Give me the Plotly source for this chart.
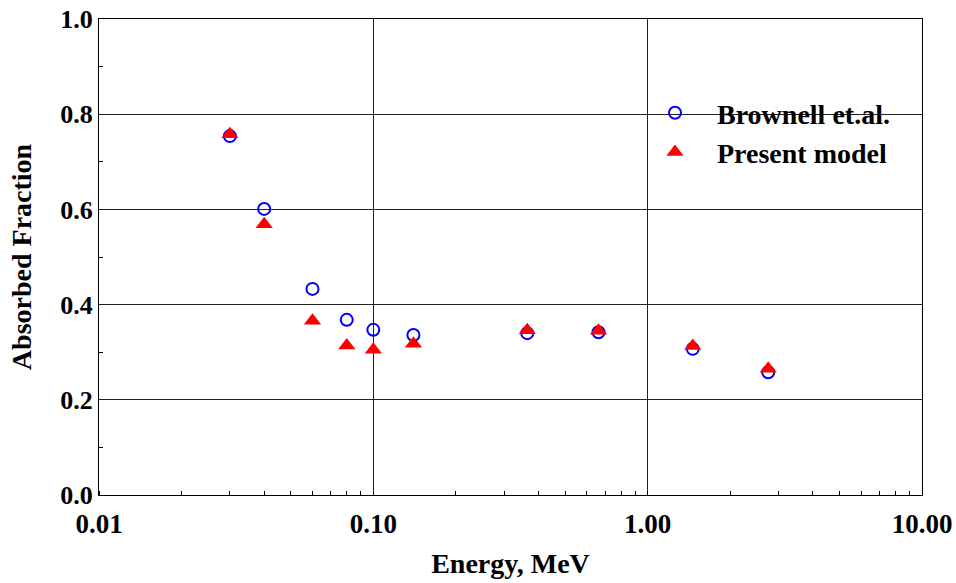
import plotly.graph_objects as go

# Photon energy (MeV) and absorbed fraction values
energy_mev = [0.030, 0.040, 0.060, 0.080, 0.100, 0.140, 0.364, 0.662, 1.46, 2.75]
brownell = [0.754, 0.601, 0.433, 0.368, 0.347, 0.336, 0.340, 0.342, 0.307, 0.258]
present_model = [0.758, 0.569, 0.366, 0.314, 0.305, 0.318, 0.346, 0.345, 0.313, 0.265]

x_tick_vals = [0.01, 0.1, 1, 10]
x_tick_text = ["0.01", "0.10", "1.00", "10.00"]

FONT = "Liberation Serif"

fig = go.Figure()
fig.add_trace(go.Scatter(
    x=energy_mev, y=brownell, mode="markers", name="<b>Brownell et.al.</b>",
    marker=dict(symbol="circle-open", size=12, color="#0000ff", line=dict(width=2, color="#0000ff")),
))
fig.add_trace(go.Scatter(
    x=energy_mev, y=present_model, mode="markers", name="<b>Present model</b>",
    marker=dict(symbol="triangle-up", size=15, color="#ff0000", line=dict(width=0)),
))

# white panel behind the legend, covering the grid
fig.add_shape(type="rect", xref="paper", yref="paper",
              x0=(638 - 99) / 823, x1=(893 - 99) / 823,
              y0=(495 - 170) / 476, y1=(495 - 90) / 476,
              fillcolor="white", line=dict(width=0), layer="between")

fig.update_layout(
    width=956, height=583,
    margin=dict(l=99, r=34, t=19, b=88, autoexpand=False),
    paper_bgcolor="white", plot_bgcolor="white",
    font=dict(family=FONT, color="black"),
    showlegend=True,
    legend=dict(x=(633 - 99) / 823, y=(495 - 88) / 476, xanchor="left", yanchor="top",
                bgcolor="rgba(0,0,0,0)", font=dict(size=28, family=FONT),
                tracegroupgap=0, itemsizing="trace", itemwidth=74),
)

fig.update_xaxes(
    type="log", range=[-2, 1], automargin=False,
    tickvals=x_tick_vals, ticktext=x_tick_text,
    tickfont=dict(size=27, family=FONT, weight="bold"),
    ticklabelstandoff=5,
    showgrid=True, gridcolor="#222", gridwidth=1,
    showline=True, linecolor="black", linewidth=1, mirror=True,
    ticks="", zeroline=False,
    minor=dict(ticks="inside", ticklen=4, tickcolor="black", showgrid=False, dtick="D1"),
    title=dict(text="<b>Energy, MeV</b>", font=dict(size=28, family=FONT), standoff=14),
)
fig.update_yaxes(
    range=[0, 1], dtick=0.2, tickformat=".1f", automargin=False,
    tickfont=dict(size=26, family=FONT, weight="bold"),
    showgrid=True, gridcolor="#222", gridwidth=1,
    showline=True, linecolor="black", linewidth=1, mirror=True,
    ticks="", zeroline=False,
    minor=dict(ticks="inside", ticklen=4, tickcolor="black", showgrid=False, dtick=0.1),
    title=dict(text="<b>Absorbed Fraction</b>", font=dict(size=28, family=FONT), standoff=20),
)

fig.write_html("out.html")
